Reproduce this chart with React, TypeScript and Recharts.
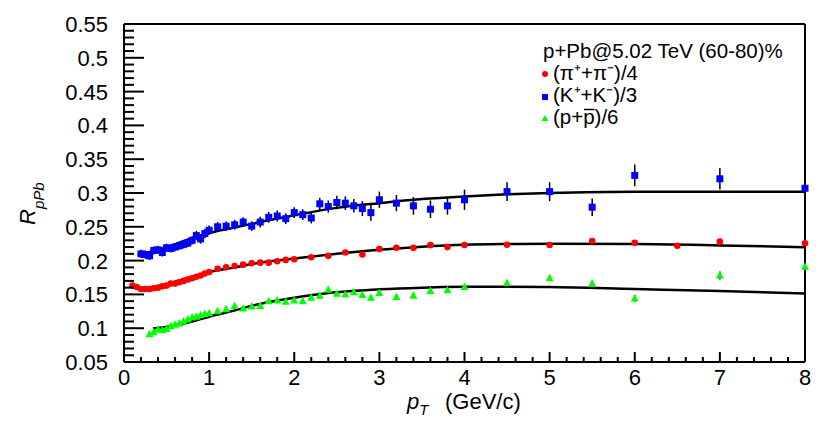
import React from "react";
import {
  ComposedChart,
  ErrorBar,
  Line,
  Scatter,
  XAxis,
  YAxis,
} from "recharts";

const FONT = "'Liberation Sans', Arial, Helvetica, sans-serif";

// (pi+ + pi-)/4
const piPt = [
  0.1, 0.15, 0.2, 0.25, 0.3, 0.35, 0.4, 0.45, 0.5, 0.55, 0.6, 0.65, 0.7, 0.75,
  0.8, 0.85, 0.9, 0.95, 1.0, 1.1, 1.2, 1.3, 1.4, 1.5, 1.6, 1.7, 1.8, 1.9, 2.0,
  2.2, 2.4, 2.6, 2.8, 3.0, 3.2, 3.4, 3.6, 3.8, 4.0, 4.5, 5.0, 5.5, 6.0, 6.5,
  7.0, 8.0,
];
const piR = [
  0.163, 0.161, 0.158, 0.158, 0.158, 0.159, 0.16, 0.162, 0.163, 0.166, 0.166,
  0.168, 0.17, 0.172, 0.174, 0.176, 0.178, 0.181, 0.183, 0.188, 0.19, 0.192,
  0.194, 0.196, 0.197, 0.197, 0.199, 0.201, 0.202, 0.205, 0.207, 0.212, 0.209,
  0.217, 0.219, 0.219, 0.223, 0.22, 0.223, 0.2235, 0.223, 0.229, 0.2265, 0.222,
  0.228, 0.2256,
];
const piErr = [
  0.002, 0.002, 0.002, 0.002, 0.002, 0.002, 0.002, 0.002, 0.002, 0.002, 0.002,
  0.002, 0.002, 0.002, 0.002, 0.002, 0.002, 0.002, 0.002, 0.002, 0.002, 0.002,
  0.002, 0.002, 0.002, 0.002, 0.002, 0.002, 0.002, 0.003, 0.003, 0.003, 0.003,
  0.003, 0.003, 0.003, 0.003, 0.003, 0.003, 0.004, 0.004, 0.004, 0.004, 0.004,
  0.004, 0,
];

// (K+ + K-)/3
const kPt = [
  0.2, 0.25, 0.3, 0.35, 0.4, 0.45, 0.5, 0.55, 0.6, 0.65, 0.7, 0.75, 0.8, 0.85,
  0.9, 0.95, 1.0, 1.1, 1.2, 1.3, 1.4, 1.5, 1.6, 1.7, 1.8, 1.9, 2.0, 2.1, 2.2,
  2.3, 2.4, 2.5, 2.6, 2.7, 2.8, 2.9, 3.0, 3.2, 3.4, 3.6, 3.8, 4.0, 4.5, 5.0,
  5.5, 6.0, 7.0, 8.0,
];
const kR = [
  0.21, 0.209, 0.207, 0.215, 0.216, 0.212, 0.219, 0.218, 0.22, 0.222, 0.224,
  0.226, 0.23, 0.237, 0.232, 0.24, 0.245, 0.25, 0.251, 0.253, 0.257, 0.251,
  0.257, 0.264, 0.266, 0.262, 0.271, 0.268, 0.263, 0.284, 0.28, 0.286, 0.285,
  0.281, 0.277, 0.271, 0.29, 0.285, 0.281, 0.276, 0.281, 0.29, 0.302, 0.302,
  0.279, 0.326, 0.321, 0.307,
];
const kErr = [
  0.006, 0.006, 0.006, 0.006, 0.006, 0.006, 0.006, 0.006, 0.006, 0.006, 0.006,
  0.006, 0.006, 0.007, 0.007, 0.007, 0.007, 0.007, 0.007, 0.007, 0.007, 0.007,
  0.008, 0.008, 0.008, 0.008, 0.008, 0.008, 0.008, 0.009, 0.009, 0.01, 0.01,
  0.01, 0.011, 0.012, 0.012, 0.012, 0.013, 0.013, 0.013, 0.015, 0.014, 0.014,
  0.013, 0.016, 0.016, 0,
];

// (p + pbar)/6
const pPt = [
  0.3, 0.35, 0.4, 0.45, 0.5, 0.55, 0.6, 0.65, 0.7, 0.75, 0.8, 0.85, 0.9, 0.95,
  1.0, 1.1, 1.2, 1.3, 1.4, 1.5, 1.6, 1.7, 1.8, 1.9, 2.0, 2.1, 2.2, 2.3, 2.4,
  2.5, 2.6, 2.7, 2.8, 2.9, 3.0, 3.2, 3.4, 3.6, 3.8, 4.0, 4.5, 5.0, 5.5, 6.0,
  7.0, 8.0,
];
const pR = [
  0.091, 0.094, 0.098, 0.097, 0.099, 0.103, 0.105, 0.107, 0.11, 0.113, 0.116,
  0.117, 0.119, 0.121, 0.122, 0.125, 0.128, 0.133, 0.129, 0.132, 0.133, 0.14,
  0.141, 0.139, 0.141, 0.14, 0.145, 0.148, 0.157, 0.151, 0.15, 0.153, 0.149,
  0.145, 0.152, 0.146, 0.148, 0.155, 0.156, 0.161, 0.167, 0.174, 0.166, 0.144,
  0.178, 0.191,
];
const pErr = [
  0.002, 0.002, 0.002, 0.002, 0.002, 0.002, 0.002, 0.002, 0.002, 0.002, 0.002,
  0.002, 0.002, 0.002, 0.002, 0.002, 0.002, 0.002, 0.002, 0.002, 0.002, 0.002,
  0.002, 0.002, 0.002, 0.002, 0.002, 0.002, 0.002, 0.002, 0.002, 0.002, 0.002,
  0.002, 0.002, 0.003, 0.003, 0.003, 0.003, 0.003, 0.004, 0.004, 0.004, 0.005,
  0.006, 0,
];

// fit curves
const piFitPt = [0.54, 0.8, 1.0, 1.3, 1.6, 2.0, 2.5, 3.0, 3.5, 4.0, 4.5, 5.0, 6.0, 7.0, 8.0];
const piFitR = [0.166, 0.176, 0.183, 0.19, 0.197, 0.203, 0.21, 0.216, 0.2205, 0.2235, 0.2245, 0.2248, 0.2245, 0.2225, 0.2197];
const kFitPt = [0.16, 0.4, 0.8, 1.0, 1.3, 1.6, 2.0, 2.5, 3.0, 3.5, 4.0, 4.5, 5.0, 6.0, 7.0, 8.0];
const kFitR = [0.208, 0.216, 0.233, 0.241, 0.249, 0.257, 0.267, 0.278, 0.285, 0.291, 0.295, 0.298, 0.3, 0.302, 0.302, 0.302];
const pFitPt = [0.34, 0.6, 0.8, 1.0, 1.2, 1.6, 2.0, 2.4, 3.0, 3.5, 4.0, 4.5, 5.0, 6.0, 7.0, 8.0];
const pFitR = [0.0995, 0.104, 0.11, 0.117, 0.123, 0.136, 0.145, 0.152, 0.1575, 0.16, 0.1612, 0.1615, 0.161, 0.158, 0.155, 0.1515];

const xMajor = [0, 1, 2, 3, 4, 5, 6, 7, 8];
const yMajor = [0.05, 0.1, 0.15, 0.2, 0.25, 0.3, 0.35, 0.4, 0.45, 0.5, 0.55];
const xTicks = Array.from({ length: 41 }, (_, i) => +(i * 0.2).toFixed(1));
const yTicks = Array.from({ length: 51 }, (_, i) => +(0.05 + i * 0.01).toFixed(2));

const pts = (xs: number[], ys: number[], es?: number[]) =>
  xs.map((x, i) => ({ x, y: ys[i], err: es ? es[i] : 0 }));

const piData = pts(piPt, piR, piErr);
const kData = pts(kPt, kR, kErr);
const pData = pts(pPt, pR, pErr);
const piFit = pts(piFitPt, piFitR);
const kFit = pts(kFitPt, kFitR);
const pFit = pts(pFitPt, pFitR);

const isXMajor = (v: number) => xMajor.some((m) => Math.abs(m - v) < 1e-6);
const isYMajor = (v: number) => yMajor.some((m) => Math.abs(m - v) < 1e-6);

const BottomTick = (props: any) => {
  const { x, y, payload } = props;
  const major = isXMajor(payload.value);
  return (
    <g>
      <line x1={x} x2={x} y1={y} y2={y - (major ? 10 : 5)} stroke="#000" strokeWidth={2} />
      {major && (
        <text x={x} y={y + 23} textAnchor="middle" fontSize={22} fontFamily={FONT} fill="#000">
          {payload.value}
        </text>
      )}
    </g>
  );
};

const TopTick = (props: any) => {
  const { x, y, payload } = props;
  const major = isXMajor(payload.value);
  return <line x1={x} x2={x} y1={y} y2={y + (major ? 10 : 5)} stroke="#000" strokeWidth={2} />;
};

const LeftTick = (props: any) => {
  const { x, y, payload } = props;
  const major = isYMajor(payload.value);
  return (
    <g>
      <line x1={x} x2={x + (major ? 20 : 10)} y1={y} y2={y} stroke="#000" strokeWidth={2} />
      {major && (
        <text x={x - 16} y={y + 8} textAnchor="end" fontSize={22} fontFamily={FONT} fill="#000">
          {String(payload.value)}
        </text>
      )}
    </g>
  );
};

const RightTick = (props: any) => {
  const { x, y, payload } = props;
  const major = isYMajor(payload.value);
  return <line x1={x} x2={x - (major ? 20 : 10)} y1={y} y2={y} stroke="#000" strokeWidth={2} />;
};

const Circle = (props: any) => <circle cx={props.cx} cy={props.cy} r={3.3} fill="#ff0000" />;
const Square = (props: any) => (
  <rect x={props.cx - 3.5} y={props.cy - 3.5} width={7} height={7} fill="#0000ff" />
);
const Triangle = (props: any) => (
  <polygon
    points={`${props.cx},${props.cy - 4.5} ${props.cx - 4},${props.cy + 3} ${props.cx + 4},${props.cy + 3}`}
    fill="#00ff00"
  />
);

const axisLine = { stroke: "#000", strokeWidth: 2 };

export default function App() {
  return (
    <div style={{ position: "absolute", left: 0, top: 0, width: 830, height: 426, background: "#fff" }}>
      <ComposedChart
        width={830}
        height={426}
        margin={{ top: 23, right: 24, bottom: 63, left: 123 }}
      >
        <XAxis
          xAxisId="b"
          type="number"
          dataKey="x"
          domain={[0, 8]}
          ticks={xTicks}
          interval={0}
          height={1}
          tickSize={0}
          tickMargin={0}
          tickLine={false}
          axisLine={axisLine}
          tick={BottomTick}
        />
        <XAxis
          xAxisId="t"
          orientation="top"
          type="number"
          dataKey="x"
          domain={[0, 8]}
          ticks={xTicks}
          interval={0}
          height={1}
          tickSize={0}
          tickMargin={0}
          tickLine={false}
          axisLine={axisLine}
          tick={TopTick}
        />
        <YAxis
          yAxisId="l"
          type="number"
          domain={[0.05, 0.55]}
          ticks={yTicks}
          interval={0}
          width={1}
          tickSize={0}
          tickMargin={0}
          tickLine={false}
          axisLine={axisLine}
          tick={LeftTick}
        />
        <YAxis
          yAxisId="r"
          orientation="right"
          type="number"
          domain={[0.05, 0.55]}
          ticks={yTicks}
          interval={0}
          width={1}
          tickSize={0}
          tickMargin={0}
          tickLine={false}
          axisLine={axisLine}
          tick={RightTick}
        />
        <Line xAxisId="b" yAxisId="l" data={piFit} dataKey="y" type="monotone" stroke="#000" strokeWidth={2.5} dot={false} activeDot={false} isAnimationActive={false} />
        <Line xAxisId="b" yAxisId="l" data={kFit} dataKey="y" type="monotone" stroke="#000" strokeWidth={2.5} dot={false} activeDot={false} isAnimationActive={false} />
        <Line xAxisId="b" yAxisId="l" data={pFit} dataKey="y" type="monotone" stroke="#000" strokeWidth={2.5} dot={false} activeDot={false} isAnimationActive={false} />
        <Scatter xAxisId="b" yAxisId="l" data={piData} dataKey="y" shape={Circle} isAnimationActive={false}>
          <ErrorBar dataKey="err" direction="y" width={0} stroke="#000" strokeWidth={1.5} isAnimationActive={false} />
        </Scatter>
        <Scatter xAxisId="b" yAxisId="l" data={kData} dataKey="y" shape={Square} isAnimationActive={false}>
          <ErrorBar dataKey="err" direction="y" width={0} stroke="#000" strokeWidth={1.5} isAnimationActive={false} />
        </Scatter>
        <Scatter xAxisId="b" yAxisId="l" data={pData} dataKey="y" shape={Triangle} isAnimationActive={false}>
          <ErrorBar dataKey="err" direction="y" width={0} stroke="#000" strokeWidth={1.5} isAnimationActive={false} />
        </Scatter>
      </ComposedChart>
      <svg
        width={830}
        height={426}
        style={{ position: "absolute", left: 0, top: 0, pointerEvents: "none" }}
        fontFamily={FONT}
      >
        {/* axis titles */}
        <text x={407} y={409} fontSize={22} fill="#000">
          <tspan fontStyle="italic">p</tspan>
          <tspan fontStyle="italic" fontSize={15} dy={6}>T</tspan>
          <tspan x={445} dy={-6}>(GeV/c)</tspan>
        </text>
        <text x={35} y={225} fontSize={22} fill="#000" transform="rotate(-90 35 225)">
          <tspan fontStyle="italic">R</tspan>
          <tspan fontStyle="italic" fontSize={15} dy={9}>pPb</tspan>
        </text>
        {/* legend */}
        <text x={543} y={58} fontSize={20.5} fill="#000">p+Pb@5.02 TeV (60-80)%</text>
        <circle cx={545} cy={74} r={3} fill="#ff0000" />
        <text x={553} y={80} fontSize={20.5} fill="#000">(π⁺+π⁻)/4</text>
        <rect x={542} y={94} width={6} height={6} fill="#0000ff" />
        <text x={553} y={102} fontSize={20.5} fill="#000">(K⁺+K⁻)/3</text>
        <polygon points="545,115 541.5,121 548.5,121" fill="#00ff00" />
        <text x={553} y={124} fontSize={20.5} fill="#000">(p+p)/6</text>
        <line x1={584} x2={594.5} y1={109.5} y2={109.5} stroke="#000" strokeWidth={1.5} />
      </svg>
    </div>
  );
}
